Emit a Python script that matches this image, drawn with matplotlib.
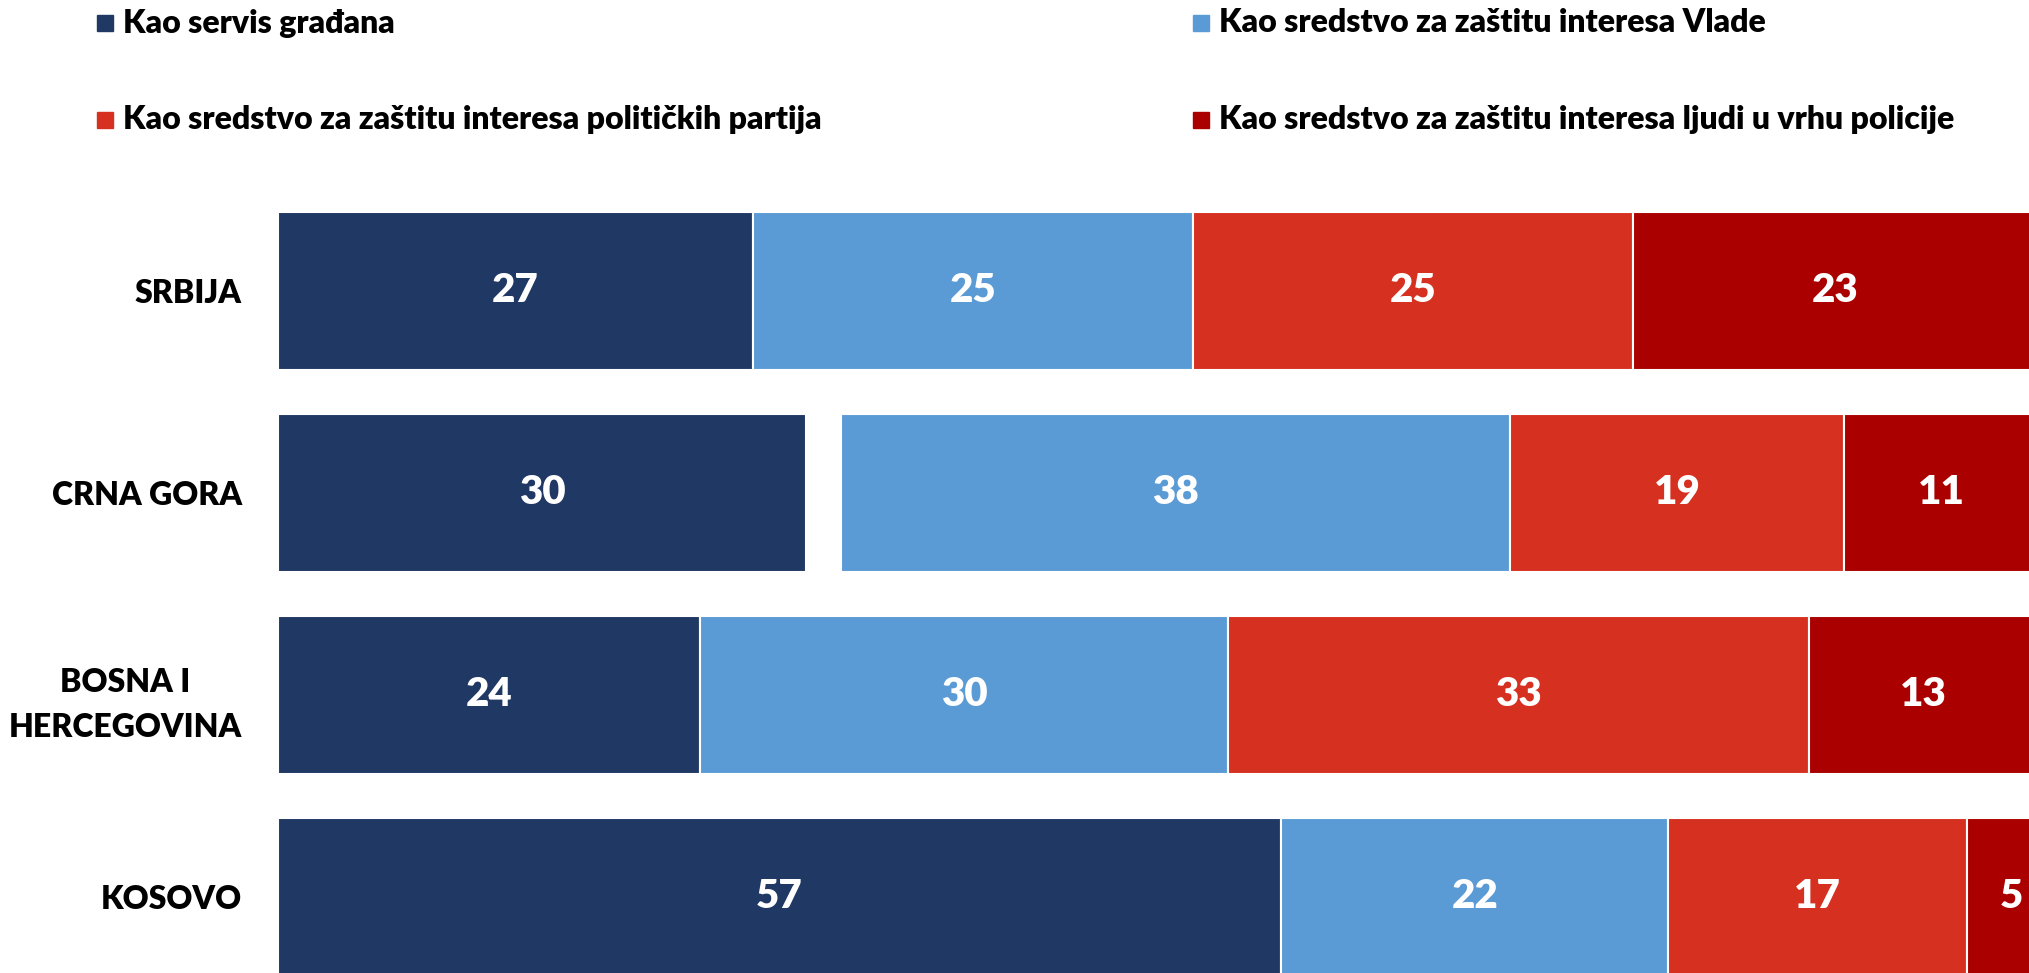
import numpy as np
import matplotlib.pyplot as plt
from matplotlib.patches import Rectangle

plt.rcParams['font.family'] = ['Lato', 'DejaVu Sans']

## the data
zemlje = ['SRBIJA', 'CRNA GORA', 'BOSNA I\nHERCEGOVINA', 'KOSOVO']
servis = [27, 30, 24, 57]
vlada = [25, 38, 30, 22]
partije = [25, 19, 33, 17]
policija = [23, 11, 13, 5]
ostalo = [0, 2, 0, 0]     # blank part of the Crna Gora bar

serije = ['Kao servis građana',
          'Kao sredstvo za zaštitu interesa Vlade',
          'Kao sredstvo za zaštitu interesa političkih partija',
          'Kao sredstvo za zaštitu interesa ljudi u vrhu policije']
boje = ['#203864', '#5B9BD5', '#D63021', '#AB0000']

W, H = 2029, 973
fig = plt.figure(figsize=(W / 100, H / 100), dpi=100)

# axes placed in pixels: bar start x=278, first bar centre y=291, step 202
top_px = 150
ax = fig.add_axes([278 / W, 0, 1 - 278 / W, 1 - top_px / H])
ind = np.arange(len(zemlje))
visina = 0.787

left = np.zeros(len(zemlje))
redosled = [(servis, boje[0]), (ostalo, None), (vlada, boje[1]),
            (partije, boje[2]), (policija, boje[3])]
for vals, c in redosled:
    vals = np.array(vals, dtype=float)
    if c is None:
        left += vals
        continue
    bars = ax.barh(ind, vals, visina, left=left, color=c,
                   edgecolor='white', linewidth=1.5)
    for b, v in zip(bars, vals):
        ax.text(b.get_x() + b.get_width() / 2, b.get_y() + b.get_height() / 2,
                '%d' % v, ha='center', va='center', color='white',
                fontsize=29, fontweight='heavy', clip_on=False)
    left += vals

ax.set_xlim(0, 99.5)
ax.set_ylim((H - 291) / 202, (top_px - 291) / 202)
ax.set_yticks(ind)
ax.set_yticklabels(zemlje, fontsize=23, fontweight='heavy', multialignment='center',
                   linespacing=1.65)
ax.tick_params(axis='y', length=0, pad=26)
ax.set_xticks([])
for s in ax.spines.values():
    s.set_visible(False)

## legend drawn by hand: two columns, two rows
leg_x = [97, 1193]
leg_y = [23, 120]
for i, (naziv, c) in enumerate(zip(serije, boje)):
    x = leg_x[i % 2]
    y = leg_y[i // 2]
    fig.patches.append(Rectangle(((x) / W, 1 - (y + 8) / H), 16 / W, 16 / H,
                                 transform=fig.transFigure, color=c))
    fig.text((x + 26) / W, 1 - y / H, naziv, ha='left', va='center',
             fontsize=23, fontweight='heavy')

fig.savefig('out.png', dpi=100)
